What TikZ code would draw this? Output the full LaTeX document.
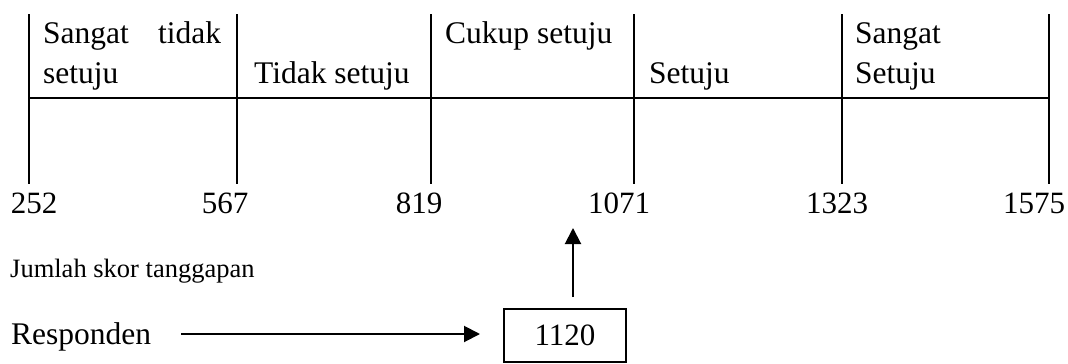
\documentclass[tikz,border=0pt]{standalone}
\usepackage{fontspec}
\setmainfont{Liberation Serif}
\usetikzlibrary{arrows.meta}
\begin{document}
\begin{tikzpicture}[x=1pt,y=-1pt,
  grid/.style={line width=2pt},
  lbl/.style={inner sep=0pt,anchor=base west,font=\fontsize{31.5}{36}\selectfont},
  num/.style={inner sep=0pt,anchor=base,font=\fontsize{31}{36}\selectfont},
  small/.style={inner sep=0pt,anchor=base west,font=\fontsize{26.5}{30}\selectfont},
  valbox/.style={draw,line width=1.6pt,minimum width=122pt,minimum height=53pt,inner sep=0pt,font=\fontsize{31}{36}\selectfont},
  arr/.style={line width=2pt,-{Triangle[length=16pt,width=16pt]}}]
\useasboundingbox (0,0) rectangle (1068,364);
% scale grid
\foreach \x in {29,237,431,634,842,1049}{\draw[grid] (\x,14) -- (\x,184);}
\draw[grid] (29,98) -- (1049,98);
% category labels
\node[lbl] (c1a) at (43,43) {\hbox to 178pt{Sangat\hfill tidak}};
\node[lbl] (c1b) at (43,83) {setuju};
\node[lbl] (c2) at (254,83) {Tidak setuju};
\node[lbl] (c3) at (445,43) {Cukup setuju};
\node[lbl] (c4) at (649,83) {Setuju};
\node[lbl] (c5a) at (855,43) {Sangat};
\node[lbl] (c5b) at (855,83) {Setuju};
% numbers
\node[num] (n1) at (34,213) {252};
\node[num] (n2) at (225,213) {567};
\node[num] (n3) at (419,213) {819};
\node[num] (n4) at (619,213) {1071};
\node[num] (n5) at (837,213) {1323};
\node[num] (n6) at (1034,213) {1575};
% lower part
\node[small] (jml) at (10,277) {Jumlah skor tanggapan};
\node[lbl] (resp) at (11,344) {Responden};
\node[valbox] (val) at (565,335.5) {1120};
\coordinate (rs) at (181,334);
\coordinate (re) at (480,334);
\coordinate (us) at (573,297);
\coordinate (ue) at (573,228);
\draw[arr] (rs) -- (re);
\draw[arr] (us) -- (ue);
\end{tikzpicture}
\end{document}
